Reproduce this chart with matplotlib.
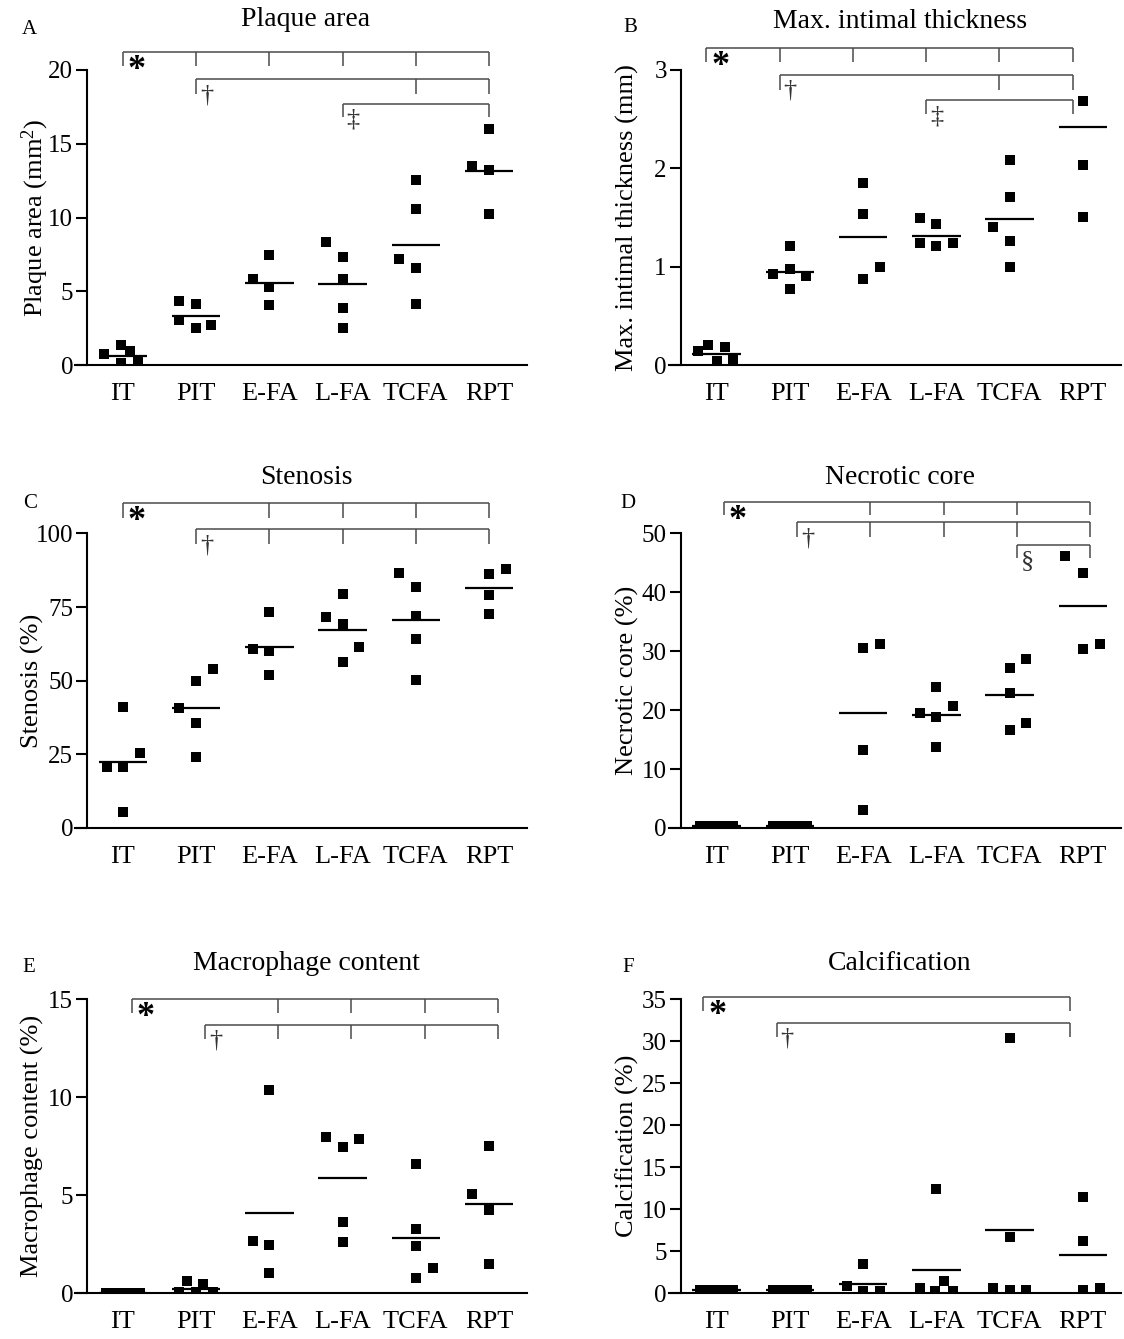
import matplotlib
matplotlib.use('Agg')
import matplotlib.pyplot as plt

plt.rcParams['font.family'] = ['Liberation Serif', 'DejaVu Serif']
plt.rcParams['mathtext.fontset'] = 'custom'
plt.rcParams['mathtext.rm'] = 'Liberation Serif'
plt.rcParams['mathtext.it'] = 'Liberation Serif:italic'

categories = ['IT', 'PIT', 'E-FA', 'L-FA', 'TCFA', 'RPT']

# ---------------- data ----------------
# A: plaque area (mm2)
plaque_vals = [[0.75, 1.36, 0.98, 0.16, 0.34], [4.32, 4.16, 3.07, 2.50, 2.68],
               [7.45, 5.80, 5.30, 4.05], [8.36, 7.34, 5.84, 3.86, 2.50],
               [12.55, 10.57, 7.16, 6.59, 4.14], [15.98, 13.52, 13.23, 10.23]]
plaque_jit = [[-0.26, -0.03, 0.09, -0.03, 0.2], [-0.23, 0, -0.23, 0, 0.2],
              [0, -0.23, 0, 0], [-0.23, 0, 0, 0, 0], [0, 0, -0.23, 0, 0], [0, -0.23, 0, 0]]
plaque_mean = [0.64, 3.30, 5.57, 5.52, 8.16, 13.18]

# B: max intimal thickness (mm)
mit_vals = [[0.14, 0.20, 0.04, 0.18, 0.06], [0.93, 1.21, 0.98, 0.91, 0.77],
            [1.85, 1.54, 1.00, 0.87], [1.50, 1.43, 1.24, 1.21, 1.24],
            [2.08, 1.71, 1.40, 1.26, 1.00], [2.68, 2.03, 1.51]]
mit_jit = [[-0.25, -0.12, 0, 0.11, 0.22], [-0.23, 0, 0, 0.22, 0],
           [0, 0, 0.23, 0], [-0.23, 0, -0.23, 0, 0.22], [0, 0, -0.23, 0, 0], [0, 0, 0]]
mit_mean = [0.11, 0.95, 1.30, 1.31, 1.48, 2.42]

# C: stenosis (%)
sten_vals = [[41.1, 25.3, 20.7, 20.7, 5.4], [54.1, 49.9, 40.9, 35.7, 24.1],
             [73.2, 60.7, 60.1, 51.9], [79.6, 71.7, 69.4, 61.3, 56.3],
             [86.7, 81.9, 71.9, 64.1, 50.2], [88.1, 86.4, 79.0, 72.6]]
sten_jit = [[0, 0.23, -0.22, 0, 0], [0.23, 0, -0.23, 0, 0],
            [0, -0.23, 0, 0], [0, -0.23, 0, 0.23, 0], [-0.23, 0, 0, 0, 0], [0.23, 0, 0, 0]]
sten_mean = [22.4, 40.8, 61.3, 67.4, 70.6, 81.4]

# D: necrotic core (%)
nc_vals = [[0.3, 0.3, 0.3, 0.3, 0.3], [0.3, 0.3, 0.3, 0.3, 0.3],
           [30.5, 31.3, 13.3, 3.1], [23.9, 19.5, 18.9, 20.7, 13.8],
           [27.1, 28.7, 22.9, 17.9, 16.7], [46.1, 43.3, 30.4, 31.2]]
nc_jit = [[-0.23, -0.12, 0, 0.12, 0.23], [-0.23, -0.12, 0, 0.12, 0.23],
          [0, 0.23, 0, 0], [0, -0.23, 0, 0.23, 0], [0, 0.23, 0, 0.23, 0], [-0.24, 0, 0, 0.23]]
nc_mean = [0.3, 0.3, 19.5, 19.2, 22.6, 37.7]

# E: macrophage content (%)
mac_vals = [[0.0, 0.0, 0.0, 0.0, 0.0], [0.60, 0.45, 0.05, 0.05, 0.05],
            [10.36, 2.64, 2.47, 1.02], [7.94, 7.43, 7.84, 3.63, 2.61],
            [6.56, 3.29, 2.39, 1.30, 0.77], [7.50, 5.05, 4.26, 1.50]]
mac_jit = [[-0.23, -0.12, 0, 0.12, 0.23], [-0.13, 0.1, -0.23, 0, 0.23],
           [0, -0.22, 0, 0], [-0.23, 0, 0.23, 0, 0], [0, 0, 0, 0.24, 0], [0, -0.23, 0, 0]]
mac_mean = [0.0, 0.22, 4.09, 5.85, 2.83, 4.53]

# F: calcification (%)
cal_vals = [[0.3, 0.3, 0.3, 0.3, 0.3], [0.3, 0.3, 0.3, 0.3, 0.3],
            [3.4, 0.8, 0.2, 0.2], [12.4, 0.6, 0.2, 1.4, 0.2],
            [30.3, 6.7, 0.6, 0.3, 0.3], [11.4, 6.15, 0.3, 0.6]]
cal_jit = [[-0.23, -0.12, 0, 0.12, 0.23], [-0.23, -0.12, 0, 0.12, 0.23],
           [0, -0.22, 0, 0.23], [0, -0.23, -0.02, 0.1, 0.22], [0, 0, -0.23, 0, 0.23], [0, 0, 0, 0.23]]
cal_mean = [0.3, 0.3, 1.07, 2.78, 7.46, 4.48]

titles = ['Plaque area', 'Max. intimal thickness', 'Stenosis',
          'Necrotic core', 'Macrophage content', 'Calcification']
ylabels = [r'Plaque area (mm$^2$)', 'Max. intimal thickness (mm)', 'Stenosis (%)',
           'Necrotic core (%)', 'Macrophage content (%)', 'Calcification (%)']
letters = ['A', 'B', 'C', 'D', 'E', 'F']
yticks = [[0, 5, 10, 15, 20], [0, 1, 2, 3], [0, 25, 50, 75, 100],
          [0, 10, 20, 30, 40, 50], [0, 5, 10, 15], [0, 5, 10, 15, 20, 25, 30, 35]]

# significance brackets: (left group, right group, groups with drop ticks, line level, tick bottom, symbol)
brackets = [
    [(0, 5, [0, 1, 2, 3, 4, 5], 21.2, 20.3, '*'), (1, 5, [1, 4, 5], 19.36, 18.4, '†'),
     (3, 5, [3, 5], 17.7, 16.8, '‡')],
    [(0, 5, [0, 1, 2, 3, 4, 5], 3.22, 3.08, '*'), (1, 5, [1, 4, 5], 2.95, 2.80, '†'),
     (3, 5, [3, 5], 2.69, 2.55, '‡')],
    [(0, 5, [0, 2, 3, 4, 5], 110.2, 105.3, '*'), (1, 5, [1, 2, 3, 4, 5], 101.4, 96.4, '†')],
    [(0, 5, [0, 2, 3, 4, 5], 55.4, 53.1, '*'), (1, 5, [1, 2, 3, 4, 5], 51.9, 49.4, '†'),
     (4, 5, [4, 5], 48.1, 45.9, '§')],
    [(0, 5, [0, 2, 3, 4, 5], 15.0, 14.28, '*'), (1, 5, [1, 2, 3, 4, 5], 13.69, 12.95, '†')],
    [(0, 5, [0, 5], 35.2, 33.6, '*'), (1, 5, [1, 5], 32.2, 30.5, '†')],
]
bracket_shift = [0.0, -0.14, 0.0, 0.1, 0.12, -0.18]

panels_vals = [plaque_vals, mit_vals, sten_vals, nc_vals, mac_vals, cal_vals]
panels_jit = [plaque_jit, mit_jit, sten_jit, nc_jit, mac_jit, cal_jit]
panels_mean = [plaque_mean, mit_mean, sten_mean, nc_mean, mac_mean, cal_mean]

# ---------------- layout ----------------
W, H = 1124, 1339
fig = plt.figure(figsize=(W / 100, H / 100), dpi=100)

col_px = [(75.4, 527.0), (669.0, 1121.0)]
row_px = [(365.0, 70.0), (828.0, 533.5), (1293.0, 999.0)]
letter_px = [(29, 29), (630, 28), (30, 503), (628, 503), (29, 968), (628, 968)]
title_y = [20, 21, 477, 478, 963, 963]
ylabel_x = [35, 627, 32, 627, 32, 627]

XLIM = (-0.65, 5.52)
BRK_COLOR = '#4a4a4a'

for i in range(6):
    r, c = divmod(i, 2)
    xl, xr = col_px[c]
    y0, yt = row_px[r]
    ax = fig.add_axes([xl / W, 1 - y0 / H, (xr - xl) / W, (y0 - yt) / H])
    vals, jit, means = panels_vals[i], panels_jit[i], panels_mean[i]
    for g in range(len(categories)):
        xs = [g + j for j in jit[g]]
        ax.plot(xs, vals[g], ls='none', marker='s', ms=7.6, mfc='black', mec='black',
                mew=0, clip_on=True, zorder=3)
        ax.plot([g - 0.33, g + 0.33], [means[g], means[g]], color='black', lw=1.6,
                solid_capstyle='butt', zorder=4)
    ax.set_xlim(*XLIM)
    ax.set_ylim(yticks[i][0], yticks[i][-1])
    ax.set_yticks(yticks[i])
    ax.set_xticks(range(len(categories)))
    ax.set_xticklabels(categories)
    for s in ['top', 'right']:
        ax.spines[s].set_visible(False)
    ax.spines['left'].set_position(('data', -0.49))
    ax.spines['left'].set_bounds(yticks[i][0], yticks[i][-1])
    ax.spines['left'].set_linewidth(1.5)
    ax.spines['bottom'].set_linewidth(1.5)
    ax.tick_params(axis='y', length=8, width=1.5, labelsize=18, pad=2, direction='out')
    ax.tick_params(axis='x', length=0, labelsize=19, pad=13)
    ax.patch.set_visible(False)

    # brackets
    sh = bracket_shift[i]
    for (lft, rgt, tks, yl, yb, sym) in brackets[i]:
        ax.plot([lft + sh, rgt + sh], [yl, yl], color=BRK_COLOR, lw=1.1, clip_on=False,
                solid_capstyle='butt')
        for t in tks:
            ax.plot([t + sh, t + sh], [yl, yb], color=BRK_COLOR, lw=1.1, clip_on=False,
                    solid_capstyle='butt')
        if sym == '*':
            ax.annotate(sym, xy=(lft + sh, yl), xytext=(5, -2), textcoords='offset pixels',
                        ha='left', va='top', fontsize=26, fontweight='bold', color='black',
                        annotation_clip=False)
        else:
            ax.annotate(sym, xy=(lft + sh, yl), xytext=(4, -5), textcoords='offset pixels',
                        ha='left', va='top', fontsize=19, color='#333333',
                        annotation_clip=False)

    # title, panel letter, y label in figure pixels
    xc = xl + (2.5 - XLIM[0]) / (XLIM[1] - XLIM[0]) * (xr - xl)
    fig.text(xc / W, 1 - title_y[i] / H, titles[i], ha='center', va='center', fontsize=20)
    lx, ly = letter_px[i]
    fig.text(lx / W, 1 - ly / H, letters[i], ha='center', va='center', fontsize=15)
    fig.text(ylabel_x[i] / W, 1 - (y0 + yt) / 2 / H, ylabels[i], ha='center', va='center',
             rotation=90, fontsize=19)

fig.savefig('out.png', dpi=100, facecolor='white')
